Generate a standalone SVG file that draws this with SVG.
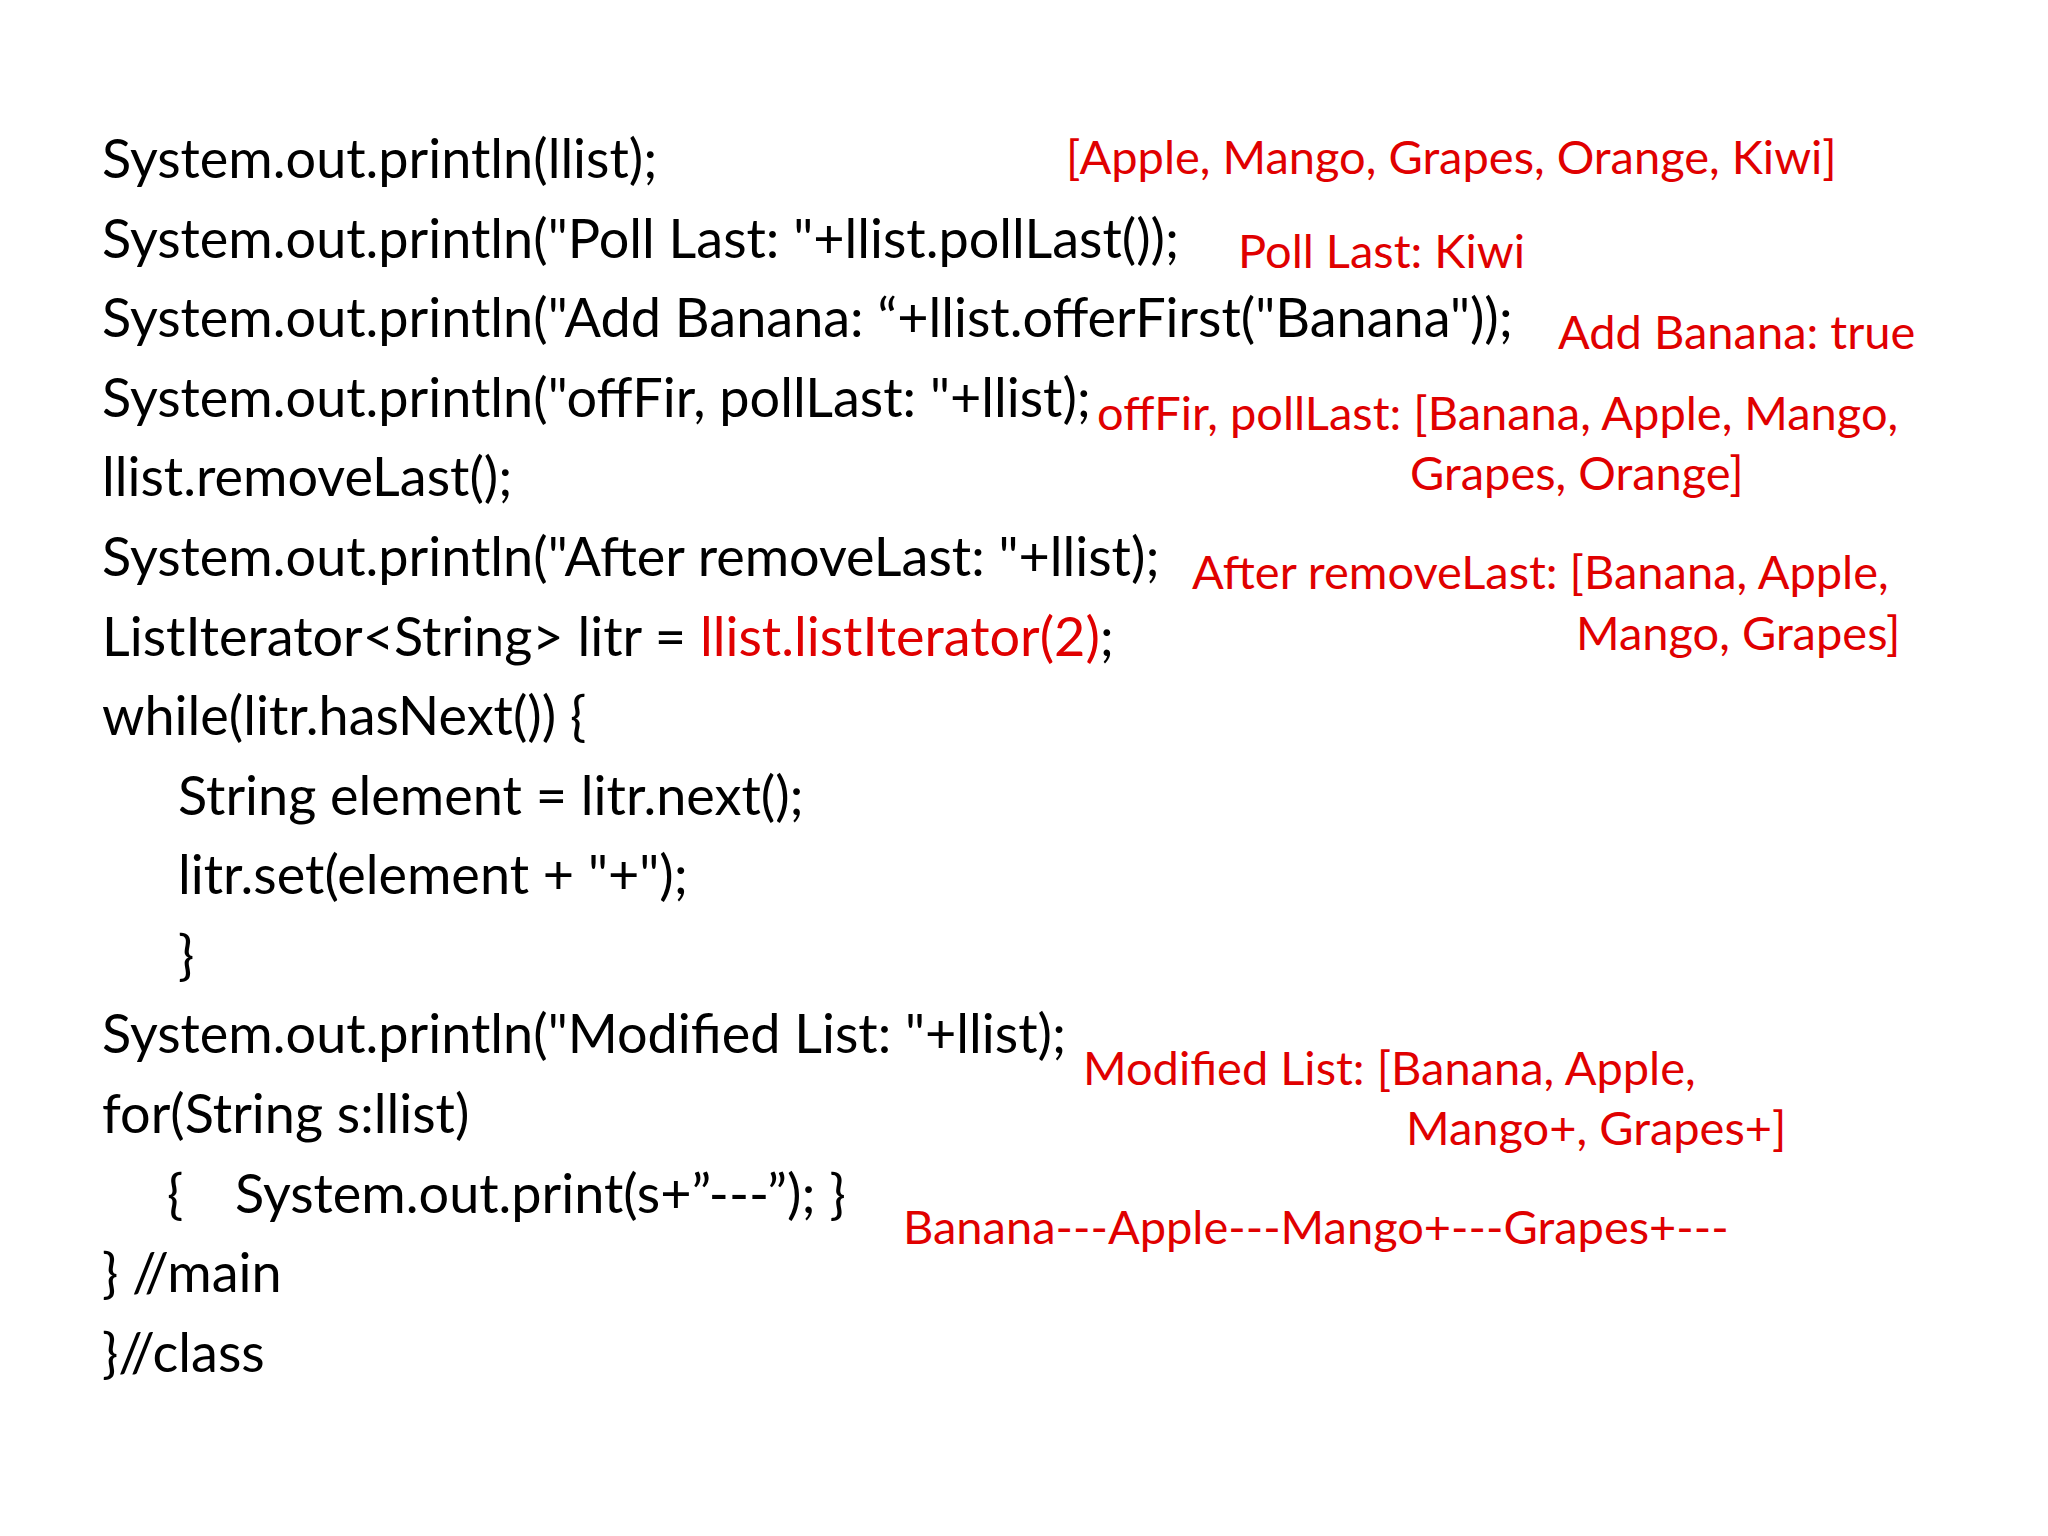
<svg xmlns="http://www.w3.org/2000/svg" width="2048" height="1536" viewBox="0 0 2048 1536">
<style>
.c{font-family:Lato,"Open Sans","Liberation Sans",sans-serif;font-size:54px;fill:#000}
.r{font-family:Lato,"Open Sans","Liberation Sans",sans-serif;font-size:47px;fill:#e00000}
.red{fill:#e00000}
</style>
<rect width="2048" height="1536" fill="#fff"/>
<g id="code">
<text class="c" x="102" y="178">System.out.println(llist);</text>
<text class="c" x="102" y="258">System.out.println("Poll Last: "+llist.pollLast());</text>
<text class="c" x="102" y="337">System.out.println("Add Banana: “+llist.offerFirst("Banana"));</text>
<text class="c" x="102" y="417">System.out.println("offFir, pollLast: "+llist);</text>
<text class="c" x="102" y="496">llist.removeLast();</text>
<text class="c" x="102" y="576">System.out.println("After removeLast: "+llist);</text>
<text class="c" x="102" y="656">ListIterator&lt;String&gt; litr = <tspan class="red">llist.listIterator(2)</tspan>;</text>
<text class="c" x="102" y="735">while(litr.hasNext()) {</text>
<text class="c" x="178" y="815">String element = litr.next();</text>
<text class="c" x="178" y="894">litr.set(element + "+");</text>
<text class="c" x="178" y="974">}</text>
<text class="c" x="102" y="1053">System.out.println("Modified List: "+llist);</text>
<text class="c" x="102" y="1133">for(String s:llist)</text>
<text class="c" x="167" y="1213">{</text>
<text class="c" x="235" y="1213">System.out.print(s+”---”); }</text>
<text class="c" x="102" y="1292">} //main</text>
<text class="c" x="102" y="1372">}//class</text>
</g>
<g id="output">
<text class="r" x="1066" y="174">[Apple, Mango, Grapes, Orange, Kiwi]</text>
<text class="r" x="1238" y="268">Poll Last: Kiwi</text>
<text class="r" x="1558" y="349">Add Banana: true</text>
<text class="r" x="1097" y="430">offFir, pollLast: [Banana, Apple, Mango,</text>
<text class="r" x="1410" y="490">Grapes, Orange]</text>
<text class="r" x="1192" y="589">After removeLast: [Banana, Apple,</text>
<text class="r" x="1576" y="650">Mango, Grapes]</text>
<text class="r" x="1083" y="1085">Modified List: [Banana, Apple,</text>
<text class="r" x="1406" y="1145">Mango+, Grapes+]</text>
<text class="r" x="903" y="1244">Banana---Apple---Mango+---Grapes+---</text>
</g>
</svg>
